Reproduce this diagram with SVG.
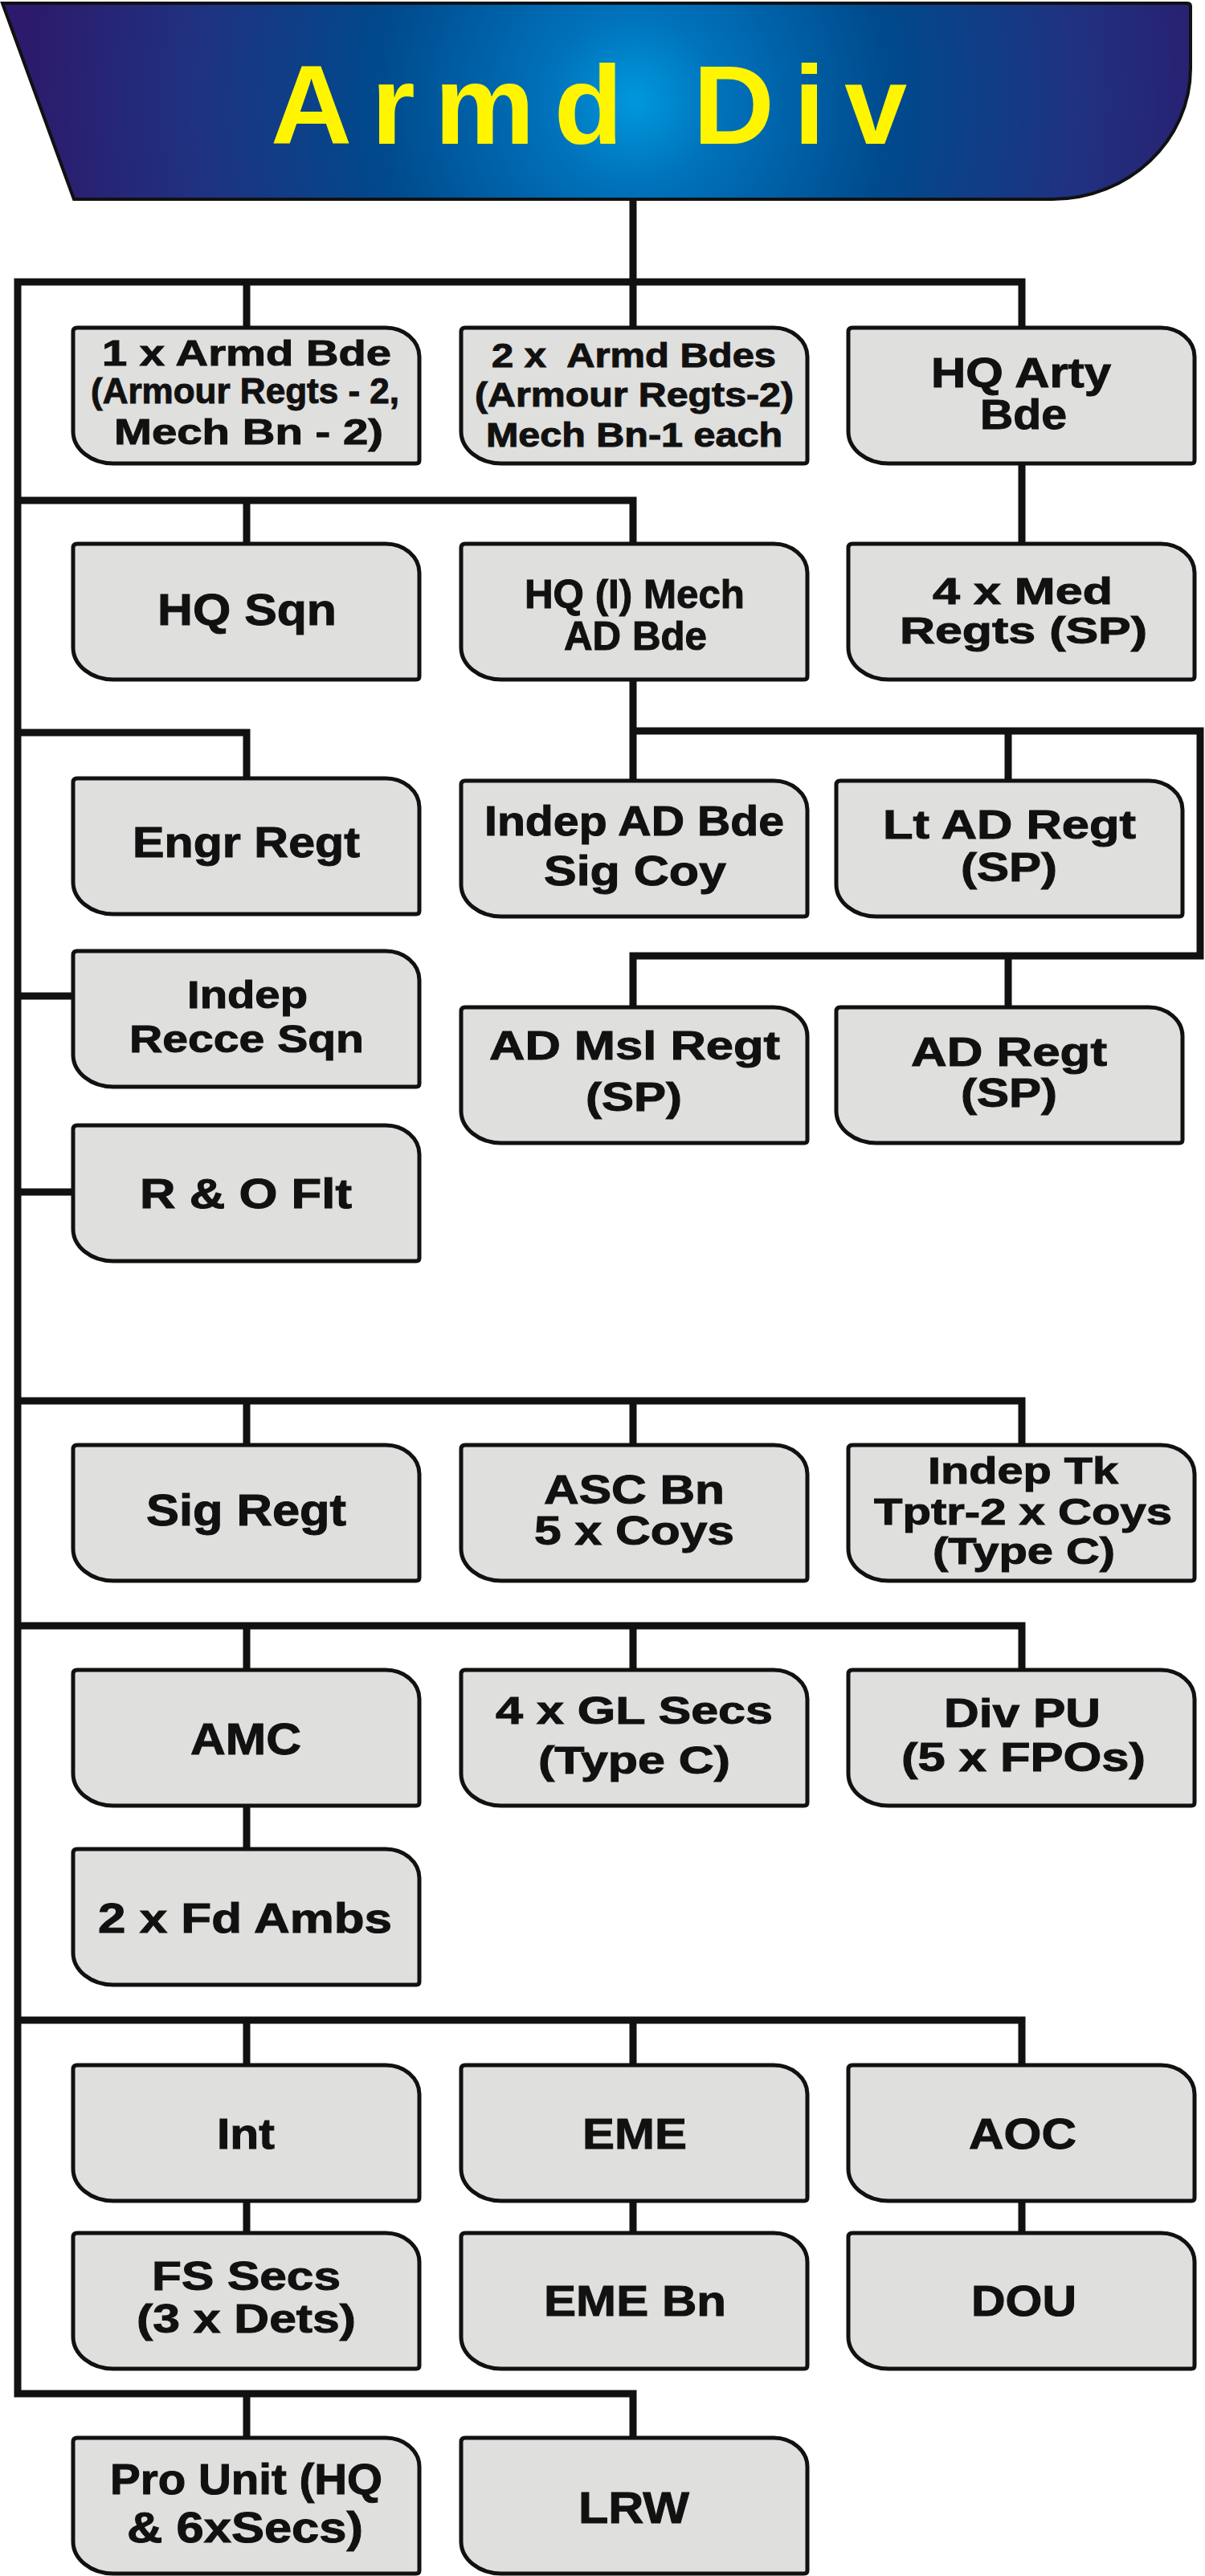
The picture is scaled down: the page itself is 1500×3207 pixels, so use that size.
<svg xmlns="http://www.w3.org/2000/svg" xmlns:xlink="http://www.w3.org/1999/xlink" width="1500" height="3207" viewBox="0 0 1500 3207">
<style>
.ln{fill:none;stroke:#111;stroke-width:9;stroke-linejoin:miter;stroke-linecap:butt}
.bx{fill:#dfdfdd;stroke:#111;stroke-width:5}
.t{font-family:"Liberation Sans",Arial,sans-serif;font-weight:bold;fill:#111;stroke:#111;stroke-width:1}
</style>
<defs>
<radialGradient id="hg" gradientUnits="userSpaceOnUse" cx="790" cy="125" r="760">
<stop offset="0" stop-color="#0098dc"/>
<stop offset="0.14" stop-color="#0072bb"/>
<stop offset="0.42" stop-color="#004a8d"/>
<stop offset="0.72" stop-color="#1f3281"/>
<stop offset="1" stop-color="#2d1a6c"/>
</radialGradient>
<path id="box" class="bx" d="M5,0 H389 A42 36 0 0 1 431,36 V165 Q431,169 427,169 H50 A50 40 0 0 1 0,129 V5 Q0,0 5,0 Z"/>
</defs>
<rect width="1500" height="3207" fill="#fff"/>
<g id="connectors">
<path class="ln" d="M1272,408 V351 H22 V2980 H788 V3037"/>
<path class="ln" d="M788,250 V408"/>
<path class="ln" d="M307,351 V408"/>
<path class="ln" d="M1272,576 V677"/>
<path class="ln" d="M22,623 H788 V677"/>
<path class="ln" d="M307,623 V677"/>
<path class="ln" d="M788,847 V972"/>
<path class="ln" d="M788,910 H1494 V1190 H788 V1254"/>
<path class="ln" d="M1255,910 V972"/>
<path class="ln" d="M1255,1190 V1254"/>
<path class="ln" d="M22,912 H307 V969"/>
<path class="ln" d="M22,1240 H91"/>
<path class="ln" d="M22,1484 H91"/>
<path class="ln" d="M22,1744 H1272 V1799"/>
<path class="ln" d="M307,1744 V1799 M788,1744 V1799"/>
<path class="ln" d="M22,2024 H1272 V2079"/>
<path class="ln" d="M307,2024 V2079 M788,2024 V2079"/>
<path class="ln" d="M307,2247 V2302"/>
<path class="ln" d="M22,2515 H1272 V2571"/>
<path class="ln" d="M307,2515 V2571 M788,2515 V2571"/>
<path class="ln" d="M307,2740 V2780 M788,2740 V2780 M1272,2740 V2780"/>
<path class="ln" d="M307,2980 V3037"/>
</g>
<g id="armd-div">
<path d="M3,4 H1478 Q1482,4 1482,8 V85 C1482,175 1405,248 1310,248 H92 Z" fill="url(#hg)" stroke="#111" stroke-width="4"/>
<text x="337" y="179" font-size="140" textLength="792" lengthAdjust="spacing" font-family="Liberation Sans, Arial, sans-serif" font-weight="bold" fill="#fff500">Armd Div</text>
</g>
<g id="armd-bde-1"><use xlink:href="#box" x="91" y="408"/>
<text class="t" font-size="45" x="127" y="455" textLength="360" lengthAdjust="spacingAndGlyphs">1 x Armd Bde</text>
<text class="t" font-size="45" x="113" y="502" textLength="384" lengthAdjust="spacingAndGlyphs">(Armour Regts - 2,</text>
<text class="t" font-size="45" x="142" y="553" textLength="335" lengthAdjust="spacingAndGlyphs">Mech Bn - 2)</text></g>
<g id="armd-bdes-2"><use xlink:href="#box" x="574" y="408"/>
<text class="t" font-size="42" x="612" y="457" textLength="354" lengthAdjust="spacingAndGlyphs" xml:space="preserve">2 x  Armd Bdes</text>
<text class="t" font-size="42" x="591" y="506" textLength="397" lengthAdjust="spacingAndGlyphs">(Armour Regts-2)</text>
<text class="t" font-size="42" x="605" y="556" textLength="369" lengthAdjust="spacingAndGlyphs">Mech Bn-1 each</text></g>
<g id="hq-arty-bde"><use xlink:href="#box" x="1056" y="408"/>
<text class="t" font-size="51" x="1159" y="482" textLength="224" lengthAdjust="spacingAndGlyphs">HQ Arty</text>
<text class="t" font-size="51" x="1220" y="534" textLength="108" lengthAdjust="spacingAndGlyphs">Bde</text></g>
<g id="hq-sqn"><use xlink:href="#box" x="91" y="677"/>
<text class="t" font-size="56" x="196" y="778" textLength="223" lengthAdjust="spacingAndGlyphs">HQ Sqn</text></g>
<g id="hq-mech-ad-bde"><use xlink:href="#box" x="574" y="677"/>
<text class="t" font-size="50" x="653" y="757" textLength="274" lengthAdjust="spacingAndGlyphs">HQ (I) Mech</text>
<text class="t" font-size="50" x="702" y="809" textLength="178" lengthAdjust="spacingAndGlyphs">AD Bde</text></g>
<g id="med-regts"><use xlink:href="#box" x="1056" y="677"/>
<text class="t" font-size="47" x="1161" y="752" textLength="224" lengthAdjust="spacingAndGlyphs">4 x Med</text>
<text class="t" font-size="47" x="1120" y="801" textLength="308" lengthAdjust="spacingAndGlyphs">Regts (SP)</text></g>
<g id="engr-regt"><use xlink:href="#box" x="91" y="969"/>
<text class="t" font-size="54" x="165" y="1067" textLength="283" lengthAdjust="spacingAndGlyphs">Engr Regt</text></g>
<g id="indep-ad-bde-sig-coy"><use xlink:href="#box" x="574" y="972"/>
<text class="t" font-size="52" x="603" y="1040" textLength="373" lengthAdjust="spacingAndGlyphs">Indep AD Bde</text>
<text class="t" font-size="52" x="677" y="1102" textLength="227" lengthAdjust="spacingAndGlyphs">Sig Coy</text></g>
<g id="lt-ad-regt"><use xlink:href="#box" x="1041" y="972"/>
<text class="t" font-size="50" x="1099" y="1044" textLength="315" lengthAdjust="spacingAndGlyphs">Lt AD Regt</text>
<text class="t" font-size="50" x="1196" y="1097" textLength="120" lengthAdjust="spacingAndGlyphs">(SP)</text></g>
<g id="indep-recce-sqn"><use xlink:href="#box" x="91" y="1184"/>
<text class="t" font-size="48" x="233" y="1255" textLength="150" lengthAdjust="spacingAndGlyphs">Indep</text>
<text class="t" font-size="48" x="161" y="1310" textLength="292" lengthAdjust="spacingAndGlyphs">Recce Sqn</text></g>
<g id="ad-msl-regt"><use xlink:href="#box" x="574" y="1254"/>
<text class="t" font-size="50" x="609" y="1319" textLength="362" lengthAdjust="spacingAndGlyphs">AD Msl Regt</text>
<text class="t" font-size="50" x="729" y="1383" textLength="120" lengthAdjust="spacingAndGlyphs">(SP)</text></g>
<g id="ad-regt"><use xlink:href="#box" x="1041" y="1254"/>
<text class="t" font-size="50" x="1134" y="1327" textLength="244" lengthAdjust="spacingAndGlyphs">AD Regt</text>
<text class="t" font-size="50" x="1196" y="1378" textLength="120" lengthAdjust="spacingAndGlyphs">(SP)</text></g>
<g id="r-o-flt"><use xlink:href="#box" x="91" y="1401"/>
<text class="t" font-size="52" x="174" y="1504" textLength="264" lengthAdjust="spacingAndGlyphs">R &amp; O Flt</text></g>
<g id="sig-regt"><use xlink:href="#box" x="91" y="1799"/>
<text class="t" font-size="55" x="182" y="1899" textLength="249" lengthAdjust="spacingAndGlyphs">Sig Regt</text></g>
<g id="asc-bn"><use xlink:href="#box" x="574" y="1799"/>
<text class="t" font-size="50" x="677" y="1872" textLength="225" lengthAdjust="spacingAndGlyphs">ASC Bn</text>
<text class="t" font-size="50" x="665" y="1923" textLength="249" lengthAdjust="spacingAndGlyphs">5 x Coys</text></g>
<g id="indep-tk-tptr"><use xlink:href="#box" x="1056" y="1799"/>
<text class="t" font-size="46" x="1155" y="1847" textLength="237" lengthAdjust="spacingAndGlyphs">Indep Tk</text>
<text class="t" font-size="46" x="1088" y="1898" textLength="371" lengthAdjust="spacingAndGlyphs">Tptr-2 x Coys</text>
<text class="t" font-size="46" x="1161" y="1947" textLength="227" lengthAdjust="spacingAndGlyphs">(Type C)</text></g>
<g id="amc"><use xlink:href="#box" x="91" y="2079"/>
<text class="t" font-size="55" x="237" y="2184" textLength="138" lengthAdjust="spacingAndGlyphs">AMC</text></g>
<g id="gl-secs"><use xlink:href="#box" x="574" y="2079"/>
<text class="t" font-size="48" x="617" y="2146" textLength="345" lengthAdjust="spacingAndGlyphs">4 x GL Secs</text>
<text class="t" font-size="48" x="670" y="2208" textLength="239" lengthAdjust="spacingAndGlyphs">(Type C)</text></g>
<g id="div-pu"><use xlink:href="#box" x="1056" y="2079"/>
<text class="t" font-size="50" x="1175" y="2150" textLength="195" lengthAdjust="spacingAndGlyphs">Div PU</text>
<text class="t" font-size="50" x="1122" y="2205" textLength="304" lengthAdjust="spacingAndGlyphs">(5 x FPOs)</text></g>
<g id="fd-ambs"><use xlink:href="#box" x="91" y="2302"/>
<text class="t" font-size="52" x="122" y="2406" textLength="366" lengthAdjust="spacingAndGlyphs">2 x Fd Ambs</text></g>
<g id="int"><use xlink:href="#box" x="91" y="2571"/>
<text class="t" font-size="54" x="270" y="2675" textLength="72" lengthAdjust="spacingAndGlyphs">Int</text></g>
<g id="eme"><use xlink:href="#box" x="574" y="2571"/>
<text class="t" font-size="54" x="725" y="2675" textLength="130" lengthAdjust="spacingAndGlyphs">EME</text></g>
<g id="aoc"><use xlink:href="#box" x="1056" y="2571"/>
<text class="t" font-size="54" x="1206" y="2675" textLength="134" lengthAdjust="spacingAndGlyphs">AOC</text></g>
<g id="fs-secs"><use xlink:href="#box" x="91" y="2780"/>
<text class="t" font-size="50" x="189" y="2851" textLength="235" lengthAdjust="spacingAndGlyphs">FS Secs</text>
<text class="t" font-size="50" x="170" y="2904" textLength="273" lengthAdjust="spacingAndGlyphs">(3 x Dets)</text></g>
<g id="eme-bn"><use xlink:href="#box" x="574" y="2780"/>
<text class="t" font-size="54" x="677" y="2883" textLength="227" lengthAdjust="spacingAndGlyphs">EME Bn</text></g>
<g id="dou"><use xlink:href="#box" x="1056" y="2780"/>
<text class="t" font-size="54" x="1209" y="2883" textLength="131" lengthAdjust="spacingAndGlyphs">DOU</text></g>
<g id="pro-unit"><use xlink:href="#box" x="91" y="3035"/>
<text class="t" font-size="53" x="137" y="3105" textLength="339" lengthAdjust="spacingAndGlyphs">Pro Unit (HQ</text>
<text class="t" font-size="53" x="158" y="3165" textLength="294" lengthAdjust="spacingAndGlyphs">&amp; 6xSecs)</text></g>
<g id="lrw"><use xlink:href="#box" x="574" y="3035"/>
<text class="t" font-size="56" x="720" y="3141" textLength="138" lengthAdjust="spacingAndGlyphs">LRW</text></g>
</svg>
